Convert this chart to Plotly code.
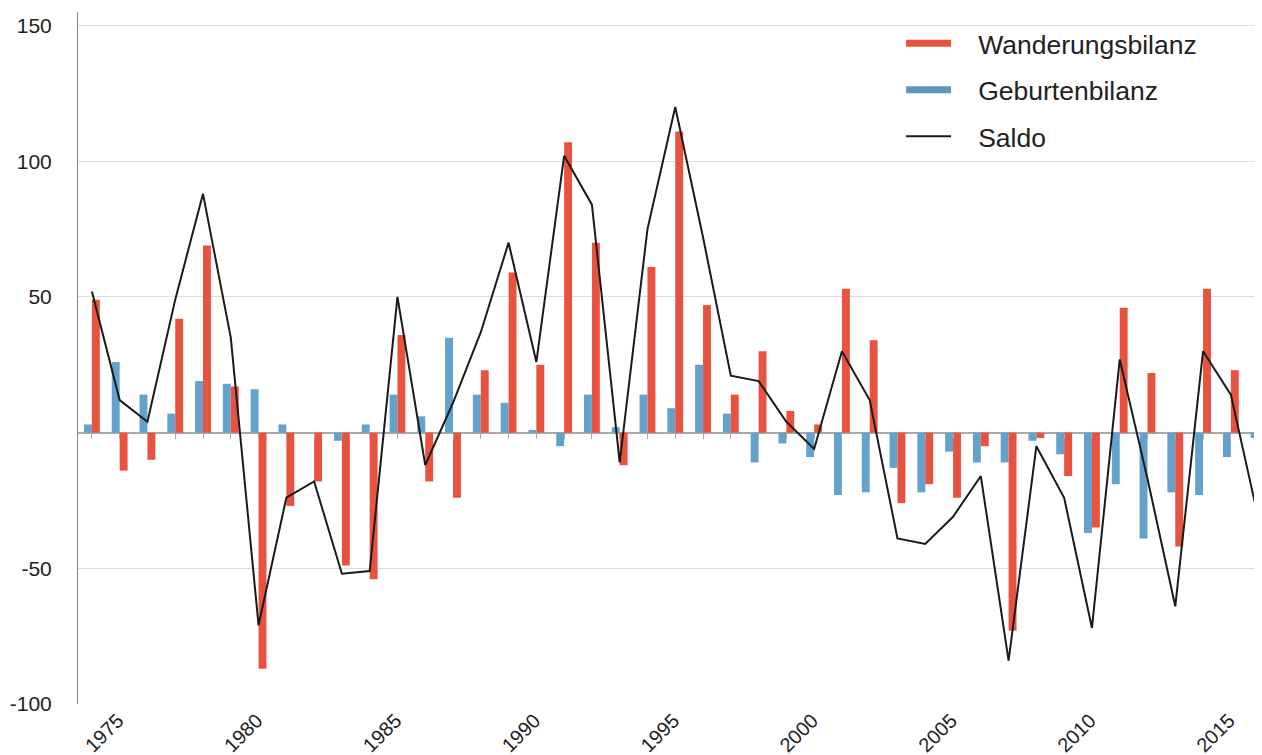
import plotly.graph_objects as go

years = list(range(1975, 2018))
wanderung = [49, -14, -10, 42, 69, 17, -87, -27, -18, -49, -54, 36, -18, -24, 23,
             59, 25, 107, 70, -12, 61, 111, 47, 14, 30, 8, 3, 53, 34, -26,
             -19, -24, -5, -73, -2, -16, -35, 46, 22, -42, 53, 23, -30]
geburten = [3, 26, 14, 7, 19, 18, 16, 3, 0, -3, 3, 14, 6, 35, 14,
            11, 1, -5, 14, 2, 14, 9, 25, 7, -11, -4, -9, -23, -22, -13,
            -22, -7, -11, -11, -3, -8, -37, -19, -39, -22, -23, -9, -2]
saldo = [52, 12, 4, 49, 88, 35, -71, -24, -18, -52, -51, 50, -12, 11, 37,
         70, 26, 102, 84, -11, 75, 120, 72, 21, 19, 4, -6, 30, 12, -39,
         -41, -31, -16, -84, -5, -24, -72, 27, -17, -64, 30, 14, -32]
label_years = [1975, 1980, 1985, 1990, 1995, 2000, 2005, 2010, 2015]
y_ticks = [-100, -50, 50, 100, 150]
legend_names = ["Wanderungsbilanz", "Geburtenbilanz", "Saldo"]

RED = "#E8533F"
BLUE = "#65A2CB"
BLUE_LEG = "#5B98C0"
BLACK = "#1a1a1a"
FONT = "Arial, Liberation Sans, sans-serif"
TXT = "#222222"
PAD = "\u00a0" * 3

fig = go.Figure()
fig.add_trace(go.Bar(x=years, y=geburten, marker_color=BLUE, marker_line_width=0,
                     showlegend=False, name="Geburtenbilanz"))
fig.add_trace(go.Bar(x=years, y=wanderung, marker_color=RED, marker_line_width=0,
                     showlegend=False, name="Wanderungsbilanz"))
fig.add_trace(go.Scatter(x=years, y=saldo, mode="lines", line=dict(color=BLACK, width=2),
                         showlegend=False, name="Saldo"))
# legend entries (line-style keys as in the original)
for nm, col, w, grp in zip(legend_names, [RED, BLUE_LEG, BLACK], [7, 7, 2], ["a", "b", "c"]):
    fig.add_trace(go.Scatter(x=[None], y=[None], mode="lines", line=dict(color=col, width=w),
                             name=PAD + nm, legendgroup=grp))

fig.update_layout(
    width=1262, height=755,
    margin=dict(l=70, r=0, t=4, b=59, autoexpand=False),
    paper_bgcolor="white", plot_bgcolor="white",
    font=dict(family=FONT, color=TXT, size=20),
    barmode="group", bargap=0.43, bargroupgap=0,
    legend=dict(x=0.6905, y=0.989, xref="paper", yref="paper",
                xanchor="left", yanchor="top", font=dict(size=26.5, color=TXT),
                traceorder="grouped", tracegroupgap=9, itemwidth=45,
                bgcolor="rgba(0,0,0,0)"),
    xaxis=dict(range=[1974.5, 2017.41], tickmode="array", tickvals=label_years,
               ticktext=[str(v) for v in label_years], tickangle=-45, automargin=False,
               showgrid=False, zeroline=False, showline=False, ticks="",
               tickfont=dict(size=20, color=TXT), ticklabelshift=26),
    xaxis2=dict(overlaying="x", matches="x", anchor="free", position=100/255,
                tickmode="linear", tick0=1975, dtick=1, ticks="outside", ticklen=5,
                tickcolor="#aaaaaa", showticklabels=False, showgrid=False,
                zeroline=False, showline=False, automargin=False),
    yaxis=dict(range=[-100, 155], tickmode="array", tickvals=y_ticks, automargin=False,
               ticktext=[str(v) for v in y_ticks], showgrid=True, gridcolor="#dddddd",
               gridwidth=1, zeroline=True, zerolinecolor="#aaaaaa", zerolinewidth=2,
               showline=True, linecolor="#888888", linewidth=1, ticks="",
               ticklabelstandoff=21, tickfont=dict(size=21, color=TXT)),
)
# invisible trace to activate xaxis2 tick marks
fig.add_trace(go.Scatter(x=[years[0]], y=[0], xaxis="x2", mode="markers",
                         marker=dict(opacity=0), showlegend=False, hoverinfo="skip"))

fig.write_html("out.html")
